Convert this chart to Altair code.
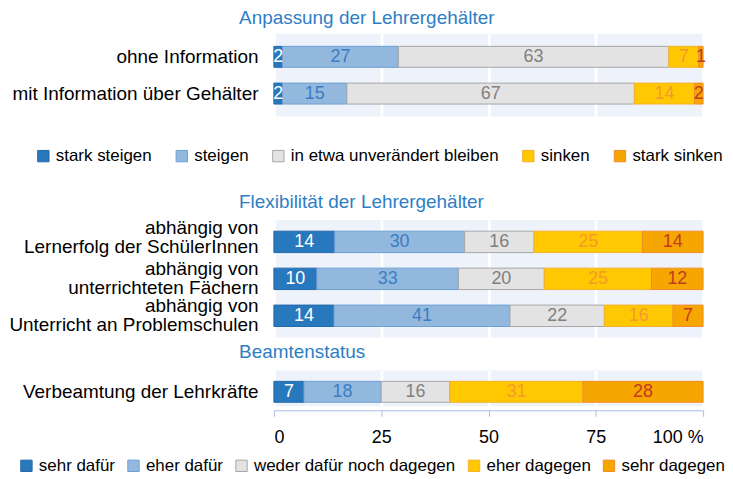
import altair as alt
import pandas as pd

TITLE_A = "Anpassung der Lehrergehälter"
TITLE_B = "Flexibilität der Lehrergehälter"
TITLE_C = "Beamtenstatus"

cats_a = ["stark steigen", "steigen", "in etwa unverändert bleiben", "sinken", "stark sinken"]
cats_bc = ["sehr dafür", "eher dafür", "weder dafür noch dagegen", "eher dagegen", "sehr dagegen"]

rows_a = ["ohne Information", "mit Information über Gehälter"]
vals_a = [[2, 27, 63, 7, 1], [2, 15, 67, 14, 2]]

rows_b = ["abhängig von|Lernerfolg der SchülerInnen",
          "abhängig von|unterrichteten Fächern",
          "abhängig von|Unterricht an Problemschulen"]
vals_b = [[14, 30, 16, 25, 14], [10, 33, 20, 25, 12], [14, 41, 22, 16, 7]]

rows_c = ["Verbeamtung der Lehrkräfte"]
vals_c = [[7, 18, 16, 31, 28]]

tick_values = [0, 25, 50, 75, 100]

fills = ["#2878BE", "#93B8DE", "#E3E3E3", "#FFC800", "#F6A600"]
strokes = ["#2368A8", "#6C9FD3", "#A6A6A6", "#F5B02A", "#F08C28"]
text_cols = ["#FFFFFF", "#3B7DC4", "#808080", "#F39A30", "#C23B22"]

FONT = "Liberation Sans"
W = 431
EXT = 267


def make_legend(x, y, pad):
    return alt.Legend(orient="none", legendX=x, legendY=y, direction="horizontal",
                      title=None, symbolType="square", symbolSize=130,
                      symbolStrokeWidth=1, labelFontSize=17, labelFont=FONT,
                      labelColor="black", columnPadding=pad, labelOffset=4,
                      labelLimit=400)


def panel(rows, vals, cats, title, height, pin, pout, align, legend, xaxis, toff, loff):
    recs = []
    for r, row in enumerate(rows):
        for k, cat in enumerate(cats):
            recs.append({"row": row, "cat": cat, "k": k, "v": vals[r][k], "tc": text_cols[k]})
    df = pd.DataFrame(recs)
    base = alt.Chart(df).transform_stack(
        stack="v", groupby=["row"], sort=[alt.SortField(field="k", order="ascending")],
        as_=["x0", "x1"], offset="normalize"
    ).transform_calculate(mid="(datum.x0 + datum.x1) / 2")
    y = alt.Y("row:N", sort=rows, title=None,
              scale=alt.Scale(paddingInner=pin, paddingOuter=pout, align=align),
              axis=alt.Axis(labelExpr="split(datum.label, '|')", labelFontSize=19,
                            labelFont=FONT, labelPadding=16, ticks=False, domain=False,
                            labelColor="black", labelLimit=400, labelLineHeight=19,
                            labelOffset=loff,
                            minExtent=EXT, maxExtent=EXT, grid=False))
    bars = base.mark_bar(strokeWidth=1).encode(
        x=alt.X("x0:Q", scale=alt.Scale(domain=[0, 1]), axis=xaxis, title=None),
        x2="x1:Q",
        y=y,
        color=alt.Color("cat:N", scale=alt.Scale(domain=cats, range=fills), sort=cats, legend=legend),
        stroke=alt.Stroke("cat:N", scale=alt.Scale(domain=cats, range=strokes), sort=cats, legend=legend),
    )
    text = base.mark_text(fontSize=18, font=FONT).encode(
        x=alt.X("mid:Q"),
        y=alt.Y("row:N", sort=rows),
        text=alt.Text("v:Q"),
        fill=alt.Fill("tc:N", scale=None),
    )
    return alt.layer(bars, text).properties(
        width=W, height=height,
        title=alt.TitleParams(text=title, anchor="start", frame="group", dx=-35,
                              color="#2E7EC5", fontSize=19, fontWeight="normal",
                              font=FONT, offset=toff),
    )


grid_axis = alt.Axis(values=[v / 100 for v in tick_values], labels=False, ticks=False,
                     domain=False, grid=True, gridColor="white", gridWidth=3, title=None)
bottom_axis = alt.Axis(values=[v / 100 for v in tick_values], grid=True, gridColor="white",
                       gridWidth=3, title=None, domainColor="#A7BBE6", tickColor="#A7BBE6",
                       tickSize=6, offset=4, labelFontSize=18, labelFont=FONT,
                       labelColor="black", labelPadding=12,
                       labelExpr="datum.value == 1 ? '100 %' : format(datum.value * 100, 'd')")

offset_b = {"condition": {"test": "indexof(datum.value, 'Lernerfolg') >= 0", "value": -14},
            "value": -9.5}

pa = panel(rows_a, vals_a, cats_a, TITLE_A, 83, 0.43, 0.34, 0.5,
           make_legend(-240, 114, 21), grid_axis, 6, 0)
pb = panel(rows_b, vals_b, cats_bc, TITLE_B, 118, 0.42, 0.3, 0.5, None, grid_axis, 7, offset_b)
pc = panel(rows_c, vals_c, cats_bc, TITLE_C, 36, 0.0, 0.357, 0.73,
           make_legend(-257, 87, 9.5), bottom_axis, 9, 0)

top = alt.vconcat(pa, pb, spacing=28).resolve_scale(color="independent", stroke="independent")
chart = alt.vconcat(top, pc, spacing=5).resolve_scale(
    color="independent", stroke="independent"
).properties(padding={"left": 0, "top": 0, "right": 0, "bottom": 0}).configure_view(
    fill="#EEF2FB", stroke=None
)

chart.save("out.html", embed_options={"renderer": "svg", "actions": False})
